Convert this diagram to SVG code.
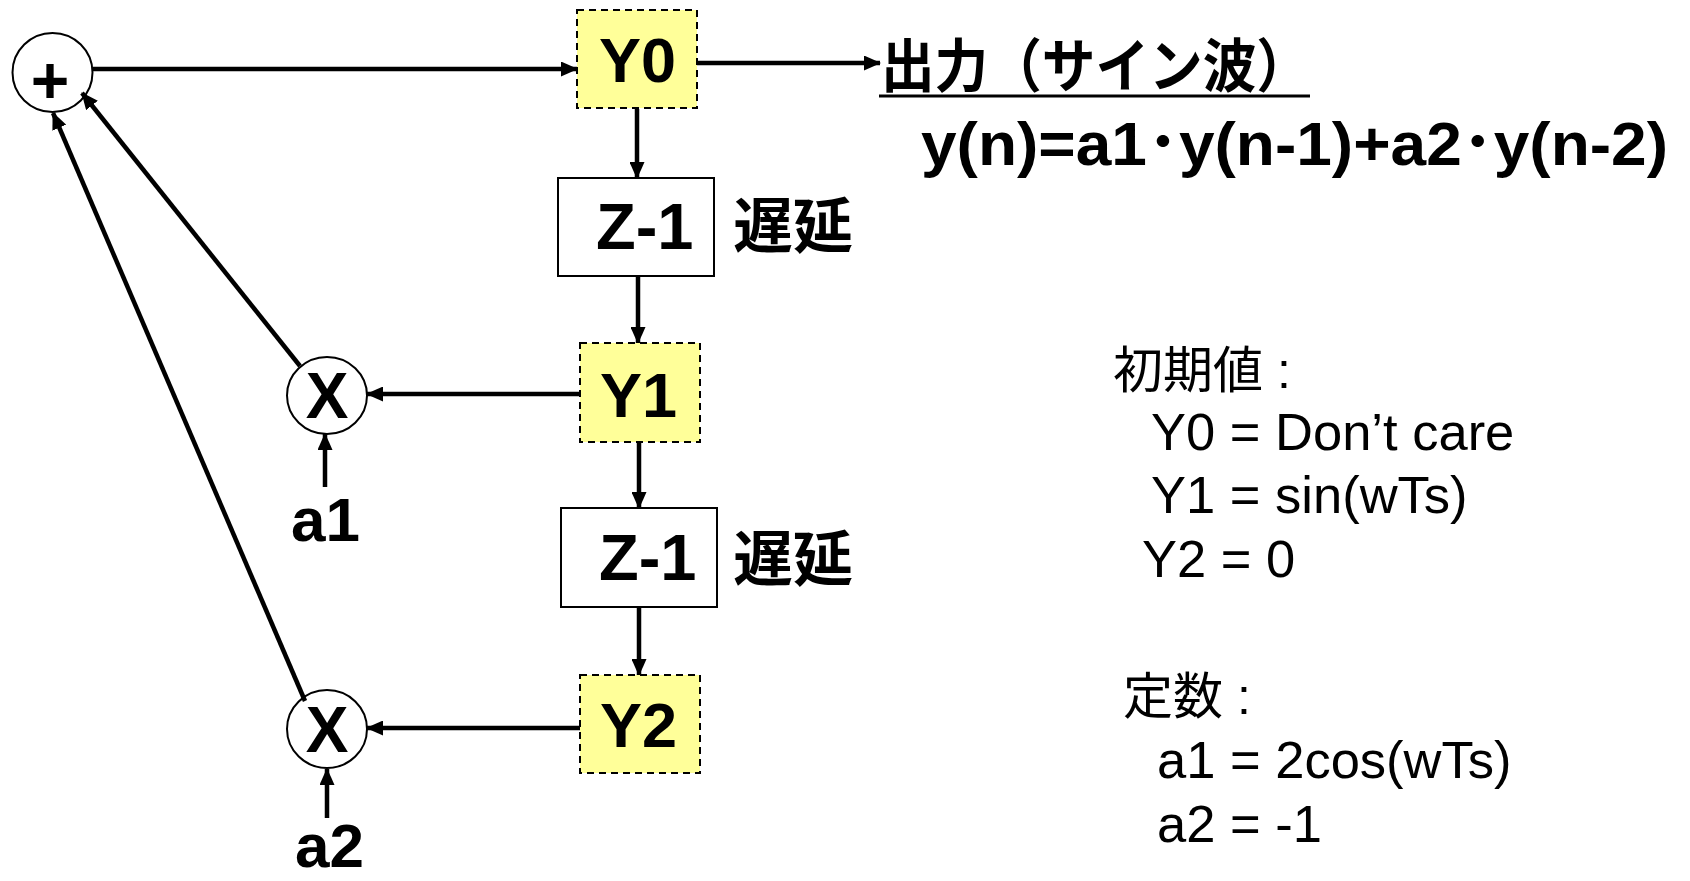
<svg xmlns="http://www.w3.org/2000/svg" width="1690" height="881" viewBox="0 0 1690 881">
<defs>
<marker id="ah" markerUnits="userSpaceOnUse" markerWidth="17" markerHeight="15" refX="16" refY="7.5" orient="auto">
<path d="M0,0 L17,7.5 L0,15 z" fill="#000"/>
</marker>
<style>
.b{font-family:"Liberation Sans",Arial,sans-serif;font-weight:bold;fill:#000}
.r{font-family:"Liberation Sans",Arial,sans-serif;fill:#000}
.cj{font-family:"Noto Sans CJK JP","Liberation Sans",sans-serif;font-weight:bold;fill:#000}
.cjr{font-family:"Noto Sans CJK JP","Liberation Sans",sans-serif;fill:#000}
.reg{fill:#ffff99;stroke:#000;stroke-width:2;stroke-dasharray:7,5}
.dly{fill:none;stroke:#000;stroke-width:2}
.op{fill:none;stroke:#000;stroke-width:2}
.cn{stroke:#000;stroke-width:4.5;fill:none;marker-end:url(#ah)}
</style>
</defs>
<rect width="1690" height="881" fill="#fff"/>

<g id="connectors">
<line class="cn" x1="93" y1="69" x2="577" y2="69"/>
<line class="cn" x1="697" y1="63" x2="880" y2="63"/>
<line class="cn" x1="637" y1="109" x2="637" y2="178"/>
<line class="cn" x1="638" y1="277" x2="638" y2="343"/>
<line class="cn" x1="639" y1="443" x2="639" y2="508"/>
<line class="cn" x1="639" y1="608" x2="639" y2="675"/>
<line class="cn" x1="580" y1="394" x2="367" y2="394"/>
<line class="cn" x1="580" y1="728" x2="367" y2="728"/>
<line class="cn" x1="325" y1="487" x2="325" y2="434"/>
<line class="cn" x1="327" y1="818" x2="327" y2="769"/>
<line class="cn" x1="300" y1="366" x2="82" y2="93"/>
<line class="cn" x1="305" y1="701" x2="53" y2="113"/>
</g>

<g id="adder">
<ellipse class="op" cx="52.5" cy="72.5" rx="40" ry="39.5"/>
<text class="b" x="50" y="103" font-size="66" text-anchor="middle">+</text>
</g>

<g id="Y0">
<rect class="reg" x="577" y="10" width="120" height="98"/>
<text class="b" x="599" y="82" font-size="63">Y0</text>
</g>

<g id="out">
<text class="cj" x="881" y="87" font-size="58" textLength="429" lengthAdjust="spacingAndGlyphs">出力（サイン波）</text>
<line x1="879" y1="96" x2="1310" y2="96" stroke="#000" stroke-width="3"/>
<text class="b" x="921" y="165" font-size="62" textLength="747" lengthAdjust="spacingAndGlyphs">y(n)=a1<tspan class="cj">･</tspan>y(n-1)+a2<tspan class="cj">･</tspan>y(n-2)</text>
</g>

<g id="Z1">
<rect class="dly" x="558" y="178" width="156" height="98"/>
<text class="b" x="596" y="249" font-size="65">Z-1</text>
<text class="cj" x="733" y="248" font-size="60">遅延</text>
</g>

<g id="Y1">
<rect class="reg" x="580" y="343" width="120" height="99"/>
<text class="b" x="600" y="417" font-size="63">Y1</text>
</g>

<g id="Z2">
<rect class="dly" x="561" y="508" width="156" height="99"/>
<text class="b" x="599" y="580" font-size="65">Z-1</text>
<text class="cj" x="733" y="581" font-size="60">遅延</text>
</g>

<g id="Y2">
<rect class="reg" x="580" y="675" width="120" height="98"/>
<text class="b" x="600" y="747" font-size="63">Y2</text>
</g>

<g id="mul1">
<ellipse class="op" cx="327" cy="395.5" rx="40" ry="38.5"/>
<text class="b" x="327" y="418" font-size="64" text-anchor="middle">X</text>
<text class="b" x="291" y="541" font-size="62">a1</text>
</g>

<g id="mul2">
<ellipse class="op" cx="327" cy="729" rx="40" ry="39"/>
<text class="b" x="327" y="752" font-size="64" text-anchor="middle">X</text>
<text class="b" x="295" y="867" font-size="62">a2</text>
</g>

<g id="notes">
<text class="cjr" x="1113" y="388" font-size="50">初期値<tspan class="r"> :</tspan></text>
<text class="r" x="1151" y="450" font-size="52.5">Y0 = Don’t care</text>
<text class="r" x="1151" y="513" font-size="52.5">Y1 = sin(wTs)</text>
<text class="r" x="1142" y="577" font-size="52.5">Y2 = 0</text>
<text class="cjr" x="1123" y="714" font-size="50">定数<tspan class="r"> :</tspan></text>
<text class="r" x="1157" y="778" font-size="52.5">a1 = 2cos(wTs)</text>
<text class="r" x="1157" y="842" font-size="52.5">a2 = -1</text>
</g>
</svg>
